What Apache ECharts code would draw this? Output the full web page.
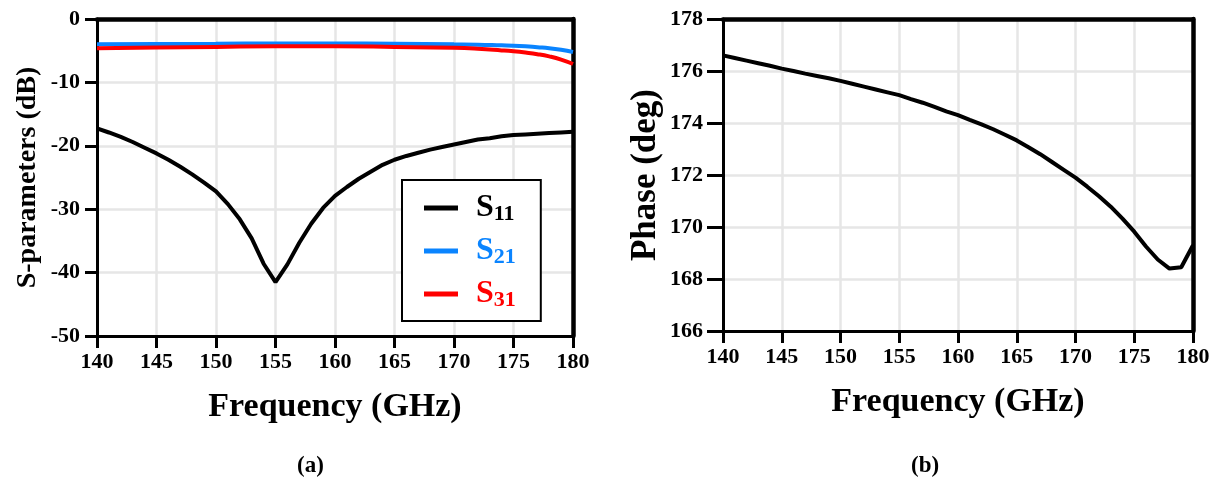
<!DOCTYPE html>
<html>
<head>
<meta charset="utf-8">
<script src="https://cdn.jsdelivr.net/npm/echarts@6/dist/echarts.min.js"></script>
<style>
html,body{margin:0;padding:0;background:#fff;}
#chart{width:1218px;height:481px;}
</style>
</head>
<body>
<div id="chart"></div>
<script>
// ---- data ----
const freq = [140,141,142,143,144,145,146,147,148,149,150,151,152,153,154,155,156,157,158,159,160,161,162,163,164,165,166,167,168,169,170,171,172,173,174,175,176,177,178,179,180];
const s11 = [-17.25,-17.9,-18.6,-19.4,-20.3,-21.2,-22.2,-23.3,-24.5,-25.8,-27.2,-29.2,-31.6,-34.6,-38.6,-41.5,-38.7,-35.3,-32.3,-29.8,-27.9,-26.5,-25.2,-24.1,-23.0,-22.2,-21.6,-21.1,-20.6,-20.2,-19.8,-19.4,-19.0,-18.8,-18.5,-18.3,-18.2,-18.1,-18.0,-17.9,-17.8];
const freqT = [140,145,150,155,160,165,170,172,174,175,176,177,178,179,180];
const s21 = [-4.0,-3.95,-3.9,-3.85,-3.85,-3.9,-4.0,-4.05,-4.15,-4.2,-4.3,-4.45,-4.6,-4.85,-5.2];
const s31 = [-4.6,-4.5,-4.4,-4.3,-4.3,-4.4,-4.55,-4.7,-4.95,-5.1,-5.3,-5.55,-5.9,-6.4,-7.1];
const phase = [176.60,176.50,176.40,176.30,176.20,176.09,176.00,175.90,175.81,175.72,175.62,175.51,175.40,175.29,175.18,175.07,174.92,174.78,174.62,174.45,174.30,174.12,173.95,173.76,173.55,173.33,173.07,172.80,172.50,172.20,171.90,171.55,171.18,170.78,170.32,169.82,169.25,168.75,168.40,168.45,169.30];
const seriesNames = ['S11','S21','S31'];
const seriesColors = ['#000000','#0a84ff','#ff0000'];
const xLabel = 'Frequency (GHz)';
const yLabelA = 'S-parameters (dB)';
const yLabelB = 'Phase (deg)';

const pair = (xs, ys) => xs.map((x, i) => [x, ys[i]]);
const FONT = '"Liberation Serif", "Times New Roman", serif';

function xAxisMain(gi){
  return {
    gridIndex: gi, type: 'value', min: 140, max: 180, interval: 5, position: 'bottom',
    axisLine: {show: true, onZero: false, lineStyle: {color: '#000', width: 3}},
    axisTick: {show: true, inside: false, length: 12, lineStyle: {color: '#000', width: 3}},
    axisLabel: {color: '#000', fontFamily: FONT, fontWeight: 'bold', fontSize: 22, margin: 15},
    splitLine: {show: true, lineStyle: {color: '#e6e6e6', width: 2.5}},
    name: xLabel, nameLocation: 'middle', nameGap: 54,
    nameTextStyle: {color: '#000', fontFamily: FONT, fontWeight: 'bold', fontSize: 34}
  };
}
function borderAxis(kind, gi, pos){
  const a = {gridIndex: gi, type: 'value', position: pos,
    axisLine: {show: true, onZero: false, lineStyle: {color: '#000', width: 4.5}},
    axisTick: {show: false}, axisLabel: {show: false}, splitLine: {show: false}};
  if (kind === 'x') { a.min = 140; a.max = 180; }
  return a;
}
const capRich = {p: {fontFamily: FONT, fontSize: 23, color: '#000'}, b: {fontFamily: FONT, fontSize: 23, fontWeight: 'bold', color: '#000'}};

const chart = echarts.init(document.getElementById('chart'), null, {renderer: 'canvas'});
chart.setOption({
  backgroundColor: '#fff',
  animation: false,
  title: [
    {text: '{p|(}{b|a}{p|)}', left: 292, top: 450, textStyle: {rich: capRich}},
    {text: '{p|(}{b|b}{p|)}', left: 906, top: 450, textStyle: {rich: capRich}}
  ],
  grid: [
    {left: 97, top: 19, width: 476, height: 317, containLabel: false},
    {left: 723, top: 19, width: 470, height: 312, containLabel: false}
  ],
  legend: {
    show: true, orient: 'vertical', left: 402, top: 180,
    padding: [12, 25, 10, 22], itemGap: 10,
    borderColor: '#000', borderWidth: 2, backgroundColor: '#fff',
    itemWidth: 34, itemHeight: 5, icon: 'rect',
    data: seriesNames.map((n, i) => ({name: n, textStyle: {color: seriesColors[i]}})),
    formatter: n => '{s|' + n.charAt(0) + '}{n|' + n.slice(1) + '}',
    textStyle: {
      padding: [0, 0, 0, 13],
      rich: {
        s: {fontFamily: FONT, fontWeight: 'bold', fontSize: 32, lineHeight: 34, verticalAlign: 'middle'},
        n: {fontFamily: FONT, fontWeight: 'bold', fontSize: 22, lineHeight: 14, verticalAlign: 'bottom'}
      }
    }
  },
  xAxis: [
    xAxisMain(0),
    borderAxis('x', 0, 'top'),
    xAxisMain(1),
    borderAxis('x', 1, 'top')
  ],
  yAxis: [
    {gridIndex: 0, type: 'value', min: -50, max: 0, interval: 10, position: 'left',
     axisLine: {show: true, onZero: false, lineStyle: {color: '#000', width: 3}},
     axisTick: {show: true, inside: false, length: 12, lineStyle: {color: '#000', width: 3}},
     axisLabel: {color: '#000', fontFamily: FONT, fontWeight: 'bold', fontSize: 22, margin: 17},
     splitLine: {show: true, lineStyle: {color: '#e6e6e6', width: 2.5}},
     name: yLabelA, nameLocation: 'middle', nameGap: 55,
     nameTextStyle: {color: '#000', fontFamily: FONT, fontWeight: 'bold', fontSize: 28}},
    borderAxis('y', 0, 'right'),
    {gridIndex: 1, type: 'value', min: 166, max: 178, interval: 2, position: 'left',
     axisLine: {show: true, onZero: false, lineStyle: {color: '#000', width: 3}},
     axisTick: {show: true, inside: false, length: 16, lineStyle: {color: '#000', width: 3}},
     axisLabel: {color: '#000', fontFamily: FONT, fontWeight: 'bold', fontSize: 22, margin: 20},
     splitLine: {show: true, lineStyle: {color: '#e6e6e6', width: 2.5}},
     name: yLabelB, nameLocation: 'middle', nameGap: 60,
     nameTextStyle: {color: '#000', fontFamily: FONT, fontWeight: 'bold', fontSize: 35}},
    borderAxis('y', 1, 'right')
  ],
  series: [
    {name: seriesNames[0], type: 'line', xAxisIndex: 0, yAxisIndex: 0, data: pair(freq, s11),
     symbol: 'none', showSymbol: false, color: seriesColors[0], lineStyle: {width: 4, color: seriesColors[0]}},
    {name: seriesNames[1], type: 'line', xAxisIndex: 0, yAxisIndex: 0, data: pair(freqT, s21), smooth: true,
     symbol: 'none', showSymbol: false, color: seriesColors[1], lineStyle: {width: 4, color: seriesColors[1]}},
    {name: seriesNames[2], type: 'line', xAxisIndex: 0, yAxisIndex: 0, data: pair(freqT, s31), smooth: true,
     symbol: 'none', showSymbol: false, color: seriesColors[2], lineStyle: {width: 4, color: seriesColors[2]}},
    {name: 'Phase', type: 'line', xAxisIndex: 2, yAxisIndex: 2, data: pair(freq, phase),
     symbol: 'none', showSymbol: false, color: '#000', lineStyle: {width: 4, color: '#000'}}
  ]
});
</script>
</body>
</html>
